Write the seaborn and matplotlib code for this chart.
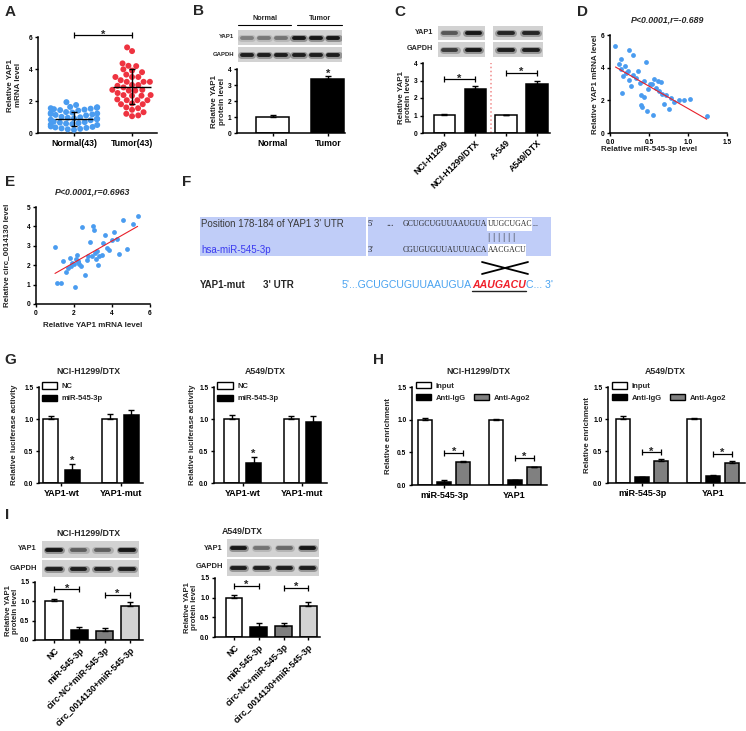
import numpy as np
import pandas as pd
import matplotlib
matplotlib.use('Agg')
import matplotlib.pyplot as plt
from matplotlib.patches import Patch, Rectangle
import seaborn as sns

# ============================================
# DATA
# ============================================

# A - YAP1 mRNA in tissue
a_groups = ['Normal(43)', 'Tumor(43)']
normal_vals = [0.20, 0.23, 0.26, 0.29, 0.32, 0.35, 0.38, 0.41,
               0.50, 0.53, 0.56, 0.59, 0.62, 0.65, 0.68, 0.71,
               0.80, 0.83, 0.86, 0.89, 0.92, 0.95, 0.98, 1.01,
               1.10, 1.13, 1.16, 1.19, 1.22, 1.25, 1.28, 1.31,
               1.40, 1.43, 1.46, 1.49, 1.52, 1.55, 1.58, 1.61,
               1.63, 1.75, 1.93]
tumor_vals = [5.35, 5.12, 4.35, 4.18, 4.20, 3.90, 3.98, 3.80, 3.50, 3.50,
              3.50, 3.20, 3.20, 3.30, 3.20, 3.00, 2.95, 3.00, 2.85, 2.70,
              2.65, 2.65, 2.70, 2.37, 2.33, 2.33, 2.37, 2.05, 2.05, 2.10,
              2.05, 1.85, 1.80, 1.80, 1.60, 1.55, 1.45, 1.30, 1.20, 1.05,
              1.10, 2.50, 3.65]
a_mean = [0.88, 2.90]
a_sd = [0.45, 1.07]

# B - YAP1 protein in tissue
b_groups = ['Normal', 'Tumor']
b_vals = [1.02, 3.35]
b_err = [0.08, 0.20]
b_yap1_bands = [0.35, 0.38, 0.40, 0.95, 0.95, 0.95]
b_gapdh_bands = [0.90, 0.90, 0.90, 0.90, 0.90, 0.90]

# C - YAP1 protein in cell lines
c_groups = ['NCI-H1299', 'NCI-H1299/DTX', 'A-549', 'A549/DTX']
c_vals = [1.02, 2.52, 1.02, 2.82]
c_err = [0.07, 0.17, 0.03, 0.18]
c_sig = [3.06, 3.43]
c_yap1_left = [0.55, 0.95]
c_yap1_right = [0.85, 0.85]
c_gapdh_left = [0.70, 0.95]
c_gapdh_right = [0.90, 0.90]

# D - miR-545-3p vs YAP1 mRNA
d_x = [0.07, 0.24, 0.30, 0.46, 0.14, 0.11, 0.19, 0.14, 0.23, 0.21, 0.29,
       0.17, 0.36, 0.33, 0.24, 0.43, 0.39, 0.57, 0.61, 0.66, 0.51, 0.54,
       0.27, 0.59, 0.49, 0.63, 0.67, 0.72, 0.15, 0.40, 0.44, 0.78, 0.89,
       0.95, 1.03, 0.82, 0.40, 0.41, 0.69, 0.75, 0.47, 0.55, 1.24]
d_y = [5.35, 5.08, 4.77, 4.36, 4.53, 4.20, 4.10, 3.91, 3.81, 3.69, 3.55,
       3.48, 3.79, 3.34, 3.22, 3.18, 3.07, 3.28, 3.20, 3.14, 3.03, 2.99,
       2.87, 2.75, 2.70, 2.58, 2.38, 2.30, 2.44, 2.32, 2.21, 2.13, 2.05,
       2.01, 2.09, 1.90, 1.70, 1.60, 1.80, 1.48, 1.33, 1.13, 1.05]

# E - YAP1 mRNA vs circ_0014130
e_x = [1.00, 1.09, 1.30, 1.44, 1.58, 1.70, 1.79, 1.88, 2.00, 2.05, 2.10,
       2.14, 2.23, 2.28, 2.35, 2.42, 2.56, 2.67, 2.75, 2.84, 2.93, 3.02,
       3.07, 3.10, 3.16, 3.19, 3.25, 3.33, 3.46, 3.54, 3.65, 3.75, 3.86,
       3.98, 4.10, 4.25, 4.39, 4.56, 4.77, 5.12, 5.35, 1.84, 2.20]
e_y = [2.93, 1.07, 1.10, 2.20, 1.67, 1.88, 2.36, 2.10, 2.05, 0.86, 2.33,
       2.53, 2.16, 2.07, 1.98, 3.95, 1.50, 2.28, 2.45, 3.22, 2.48, 4.00,
       3.83, 2.62, 2.31, 2.71, 2.02, 2.45, 2.53, 3.14, 3.55, 2.88, 2.79,
       3.28, 3.71, 3.36, 2.57, 4.34, 2.83, 4.14, 4.55, 1.97, 2.20]

# G - luciferase reporter
g_targets = ['YAP1-wt', 'YAP1-mut']
g_groups = ['NC', 'miR-545-3p']
g1_nc = [1.00, 1.00]
g1_nc_err = [0.04, 0.08]
g1_mir = [0.20, 1.07]
g1_mir_err = [0.10, 0.07]
g2_nc = [1.00, 1.00]
g2_nc_err = [0.06, 0.05]
g2_mir = [0.31, 0.95]
g2_mir_err = [0.10, 0.09]

# H - RIP assay
h_targets = ['miR-545-3p', 'YAP1']
h_groups = ['Input', 'Anti-IgG', 'Anti-Ago2']
h1_input = [1.00, 1.00]
h1_input_err = [0.03, 0.01]
h1_igg = [0.05, 0.07]
h1_igg_err = [0.02, 0.01]
h1_ago2 = [0.35, 0.27]
h1_ago2_err = [0.02, 0.01]
h1_sig = [0.49, 0.41]
h2_input = [1.00, 1.00]
h2_input_err = [0.05, 0.02]
h2_igg = [0.09, 0.11]
h2_igg_err = [0.01, 0.01]
h2_ago2 = [0.35, 0.32]
h2_ago2_err = [0.02, 0.02]
h2_sig = [0.48, 0.45]

# I - rescue western blot
i_groups = ['NC', 'miR-545-3p', 'circ-NC+miR-545-3p', 'circ_0014130+miR-545-3p']
i1_vals = [1.00, 0.25, 0.23, 0.88]
i1_err = [0.05, 0.09, 0.09, 0.10]
i1_sig = [1.31, 1.16]
i2_vals = [1.00, 0.26, 0.27, 0.80]
i2_err = [0.06, 0.09, 0.08, 0.09]
i2_sig = [1.30, 1.25]
i1_yap1 = [0.95, 0.50, 0.50, 0.95]
i1_gapdh = [0.90, 0.90, 0.90, 0.90]
i2_yap1 = [0.95, 0.40, 0.45, 0.95]
i2_gapdh = [0.90, 0.90, 0.90, 0.90]

BLUE = '#4a9cf0'
RED = '#ee3340'

# ============================================
# STYLE
# ============================================
sns.set_style('ticks')
plt.rcParams['font.family'] = ['Liberation Sans', 'DejaVu Sans']
plt.rcParams['font.weight'] = 'bold'
plt.rcParams['axes.labelweight'] = 'bold'
plt.rcParams['axes.linewidth'] = 1.1
plt.rcParams['axes.edgecolor'] = 'black'
for k in ['xtick', 'ytick']:
    plt.rcParams[k + '.color'] = 'black'
    plt.rcParams[k + '.major.width'] = 1.0
    plt.rcParams[k + '.major.size'] = 2.5
    plt.rcParams[k + '.major.pad'] = 1.5
    plt.rcParams[k + '.labelsize'] = 4.8

W, H = 746, 731
fig = plt.figure(figsize=(W / 100, H / 100), dpi=100)


def px_axes(left, top, right, bottom):
    return fig.add_axes([left / W, 1 - bottom / H, (right - left) / W, (bottom - top) / H])


def ylab(ax, text, right_px, size=5.8):
    pos = ax.get_position()
    ax.set_ylabel(text, fontsize=size, linespacing=1.1)
    ax.yaxis.set_label_coords((right_px / W - pos.x0) / pos.width, 0.5)


def finish(ax, ylim, yticks, fmt='{:g}', xsize=6.3):
    sns.despine(ax=ax)
    ax.set_ylim(*ylim)
    ax.set_yticks(yticks)
    ax.set_yticklabels([fmt.format(v) for v in yticks])
    ax.set_xlabel('')
    ax.tick_params(axis='x', labelsize=xsize)


def add_err(ax, xs, vals, errs):
    ax.errorbar(xs, vals, yerr=[np.zeros(len(vals)), errs], fmt='none',
                ecolor='black', elinewidth=1, capsize=2.2, capthick=1, zorder=3)


def bracket(ax, x0, x1, y):
    ax.plot([x0, x1], [y, y], color='black', lw=0.9, marker='|',
            markersize=4, markeredgewidth=0.9, clip_on=False)
    star(ax, (x0 + x1) / 2, y)


def star(ax, x, y):
    ax.annotate('*', (x, y), xytext=(0, -1.5), textcoords='offset points',
                ha='center', va='baseline', fontsize=8, annotation_clip=False)


def blot(ax, bands):
    lanes = np.arange(len(bands))
    ax.set_facecolor('#d2d2d2')
    for lane, level in zip(lanes, bands):
        ax.plot([lane - 0.3, lane + 0.3], [0, 0], color='#111111',
                alpha=0.35 * level, lw=5, solid_capstyle='round')
        ax.plot([lane - 0.28, lane + 0.28], [0, 0], color='#111111',
                alpha=level, lw=2.8, solid_capstyle='round')
    ax.set_xlim(-0.5, len(bands) - 0.5)
    ax.set_ylim(-1, 1)
    ax.set_xticks([])
    ax.set_yticks([])
    for s in ax.spines.values():
        s.set_visible(False)


def simple_bars(ax, groups, vals, errs, colors, width):
    sns.barplot(x=groups, y=vals, hue=groups, palette=colors, width=width,
                saturation=1, edgecolor='black', linewidth=1.1,
                errorbar=None, legend=False, ax=ax)
    add_err(ax, np.arange(len(groups)), vals, errs)


def grouped_bars(ax, targets, groups, series, errs, colors, width, gap):
    rows = []
    for g, vals in zip(groups, series):
        for t, v in zip(targets, vals):
            rows.append({'target': t, 'group': g, 'value': v})
    df = pd.DataFrame(rows)
    sns.barplot(data=df, x='target', y='value', hue='group', order=targets,
                hue_order=groups, palette=colors, width=width, gap=gap,
                saturation=1, edgecolor='black', linewidth=1.1,
                errorbar=None, legend=False, ax=ax)
    n = len(groups)
    centers = []
    for j, (vals, err) in enumerate(zip(series, errs)):
        xs = np.arange(len(targets)) - width / 2 + width / n * (j + 0.5)
        add_err(ax, xs, vals, err)
        centers.append(xs)
    return centers


def box(fc):
    return Patch(facecolor=fc, edgecolor='black', linewidth=1)


# ============================================
# PANEL A
# ============================================
axA = px_axes(38, 37, 157, 133)
df_a = pd.DataFrame({'group': [a_groups[0]] * len(normal_vals) + [a_groups[1]] * len(tumor_vals),
                     'value': normal_vals + tumor_vals})
sns.swarmplot(data=df_a, x='group', y='value', hue='group', palette=[BLUE, RED],
              size=4.3, linewidth=0, legend=False, ax=axA)
xa = np.arange(2)
axA.hlines(a_mean, xa - 0.33, xa + 0.33, color='black', lw=1, zorder=4)
axA.errorbar(xa, a_mean, yerr=a_sd, fmt='none', ecolor='black', elinewidth=1,
             capsize=2.2, capthick=1, zorder=4)
bracket(axA, 0, 1, 6.1)
finish(axA, (0, 6), [0, 2, 4, 6])
axA.set_xlim(-0.62, 1.43)
ylab(axA, 'Relative YAP1\nmRNA level', 22)

# ============================================
# PANEL B
# ============================================
axB = px_axes(237, 69, 345, 133)
simple_bars(axB, b_groups, b_vals, b_err, ['white', 'black'], 0.6)
star(axB, 1, b_vals[1] + b_err[1] + 0.1)
finish(axB, (0, 4), [0, 1, 2, 3, 4])
axB.set_xlim(-0.65, 1.31)
ylab(axB, 'Relative YAP1\nprotein level', 226)
blot(px_axes(238, 30, 342, 45), b_yap1_bands)
blot(px_axes(238, 47, 342, 62), b_gapdh_bands)

# ============================================
# PANEL C
# ============================================
axC = px_axes(423, 63, 550, 133)
simple_bars(axC, c_groups, c_vals, c_err, ['white', 'black', 'white', 'black'], 0.68)
axC.axvline(1.5, color='#f08a8a', ls=':', lw=1.1)
bracket(axC, 0, 1, c_sig[0])
bracket(axC, 2, 3, c_sig[1])
finish(axC, (0, 4), [0, 1, 2, 3, 4])
axC.set_xlim(-0.68, 3.42)
axC.set_xticks(range(4))
axC.set_xticklabels(c_groups, rotation=45, ha='right', rotation_mode='anchor', fontsize=6.3)
ylab(axC, 'Relative YAP1\nprotein level', 412)
blot(px_axes(438, 26, 485, 40), c_yap1_left)
blot(px_axes(493, 26, 543, 40), c_yap1_right)
blot(px_axes(438, 42, 485, 57), c_gapdh_left)
blot(px_axes(493, 42, 543, 57), c_gapdh_right)

# ============================================
# PANEL D
# ============================================
axD = px_axes(610, 35, 727, 133)
sns.regplot(x=d_x, y=d_y, ci=None, ax=axD,
            scatter_kws=dict(s=12, color=BLUE, linewidths=0, alpha=1),
            line_kws=dict(color='#e8202a', lw=0.8))
finish(axD, (0, 6), [0, 2, 4, 6])
axD.set_xlim(0, 1.5)
axD.set_xticks([0, 0.5, 1.0, 1.5])
axD.set_xticklabels(['0.0', '0.5', '1.0', '1.5'], fontsize=4.8)
axD.set_xlabel('Relative miR-545-3p level', fontsize=5.8)
axD.xaxis.set_label_coords(0.33, -0.13)
ylab(axD, 'Relative YAP1 mRNA level', 599)

# ============================================
# PANEL E
# ============================================
axE = px_axes(36, 207, 150, 304)
sns.regplot(x=e_x, y=e_y, ci=None, ax=axE,
            scatter_kws=dict(s=12, color=BLUE, linewidths=0, alpha=1),
            line_kws=dict(color='#e8202a', lw=0.8))
finish(axE, (0, 5), [0, 1, 2, 3, 4, 5])
axE.set_xlim(0, 6)
axE.set_xticks([0, 2, 4, 6])
axE.tick_params(axis='x', labelsize=4.8)
axE.set_xlabel('Relative YAP1 mRNA level', fontsize=5.8)
ylab(axE, 'Relative circ_0014130 level', 10)

# ============================================
# PANEL G
# ============================================
g_sets = [
    (px_axes(39, 387, 143, 483), g1_nc, g1_nc_err, g1_mir, g1_mir_err, (-0.38, 1.38), 18),
    (px_axes(214, 387, 327, 483), g2_nc, g2_nc_err, g2_mir, g2_mir_err, (-0.48, 1.42), 196),
]
for ax, nc, nc_err, mir, mir_err, xlim, lab_x in g_sets:
    cx = grouped_bars(ax, g_targets, g_groups, [nc, mir], [nc_err, mir_err],
                      ['white', 'black'], 0.74, 0.32)
    star(ax, cx[1][0], mir[0] + mir_err[0] + 0.03)
    finish(ax, (0, 1.5), [0, 0.5, 1.0, 1.5], '{:.1f}', xsize=6.5)
    ax.set_xlim(*xlim)
    ylab(ax, 'Relative luciferase activity', lab_x)
    ax.legend([box('white'), box('black')], g_groups, loc='upper left',
              bbox_to_anchor=(0.03, 1.05), frameon=False, fontsize=5.5,
              handlelength=2.0, handleheight=0.9, labelspacing=0.6,
              handletextpad=0.6, borderaxespad=0, borderpad=0)

# ============================================
# PANEL H
# ============================================
h_sets = [
    (px_axes(412, 387, 547, 485), [h1_input, h1_igg, h1_ago2],
     [h1_input_err, h1_igg_err, h1_ago2_err], h1_sig, (-0.46, 1.46), 392),
    (px_axes(608, 387, 745, 483), [h2_input, h2_igg, h2_ago2],
     [h2_input_err, h2_igg_err, h2_ago2_err], h2_sig, (-0.48, 1.45), 591),
]
for ax, series, errs, sig, xlim, lab_x in h_sets:
    cx = grouped_bars(ax, h_targets, h_groups, series, errs,
                      ['white', 'black', '#808080'], 0.81, 0.26)
    for k in range(2):
        bracket(ax, cx[1][k], cx[2][k], sig[k])
    finish(ax, (0, 1.5), [0, 0.5, 1.0, 1.5], '{:.1f}', xsize=6.5)
    ax.set_xlim(*xlim)
    ylab(ax, 'Relative enrichment', lab_x)
    ax.legend([box('white'), box('black'), Patch(facecolor='none', edgecolor='none'), box('#808080')],
              ['Input', 'Anti-IgG', '', 'Anti-Ago2'], ncol=2, loc='upper left',
              bbox_to_anchor=(0.03, 1.05), frameon=False, fontsize=5.5,
              handlelength=2.0, handleheight=0.9, labelspacing=0.5,
              handletextpad=0.6, columnspacing=1.0, borderaxespad=0, borderpad=0)

# ============================================
# PANEL I
# ============================================
i_sets = [
    (px_axes(35, 582, 143, 640), i1_vals, i1_err, i1_sig, (-0.75, 3.51), 19,
     (42, 541, 139, 558), (42, 560, 139, 577), i1_yap1, i1_gapdh),
    (px_axes(215, 578, 320, 637), i2_vals, i2_err, i2_sig, (-0.77, 3.47), 198,
     (227, 539, 319, 557), (227, 559, 319, 576), i2_yap1, i2_gapdh),
]
for ax, vals, errs, sig, xlim, lab_x, yb, gb, yband, gband in i_sets:
    simple_bars(ax, i_groups, vals, errs, ['white', 'black', '#7f7f7f', '#d3d3d3'], 0.68)
    bracket(ax, 0, 1, sig[0])
    bracket(ax, 2, 3, sig[1])
    finish(ax, (0, 1.5), [0, 0.5, 1.0, 1.5], '{:.1f}')
    ax.set_xlim(*xlim)
    ax.set_xticks(range(4))
    ax.set_xticklabels(i_groups, rotation=45, ha='right', rotation_mode='anchor', fontsize=6.3)
    ylab(ax, 'Relative YAP1\nprotein level', lab_x, size=5.6)
    blot(px_axes(*yb), yband)
    blot(px_axes(*gb), gband)

# ============================================
# OVERLAY TEXT (letters, titles, blot labels, panel F)
# ============================================
ov = fig.add_axes([0, 0, 1, 1])
ov.set_xlim(0, W)
ov.set_ylim(H, 0)
ov.axis('off')

for letter, x, y in [('A', 10, 12), ('B', 198, 11), ('C', 400, 12), ('D', 583, 12),
                     ('E', 10, 182), ('F', 187, 182), ('G', 10, 360),
                     ('H', 378, 360), ('I', 7, 515)]:
    ov.text(x, y, letter, fontsize=11, ha='center', va='center')

for title, x, y, style in [('P<0.0001,r=-0.689', 668, 20, 'italic'),
                           ('P<0.0001,r=0.6963', 93, 192, 'italic'),
                           ('NCI-H1299/DTX', 88, 372, 'normal'),
                           ('A549/DTX', 265, 372, 'normal'),
                           ('NCI-H1299/DTX', 478, 372, 'normal'),
                           ('A549/DTX', 665, 372, 'normal'),
                           ('NCI-H1299/DTX', 88, 533, 'normal'),
                           ('A549/DTX', 242, 531, 'normal')]:
    ov.text(x, y, title, fontsize=6.3, fontstyle=style, ha='center', va='center')

# blot labels
for text, x, y, size in [('YAP1', 234, 37, 4.3), ('GAPDH', 234, 54, 4.3),
                         ('YAP1', 433, 33, 5.2), ('GAPDH', 433, 49, 5.2),
                         ('YAP1', 37, 549, 5.3), ('GAPDH', 37, 568, 5.5),
                         ('YAP1', 223, 548, 5.3), ('GAPDH', 223, 567, 5.5)]:
    ov.text(x, y, text, fontsize=size, ha='right', va='center')

# panel B header
ov.text(265, 19, 'Normal', fontsize=5.2, ha='center', va='center')
ov.text(320, 19, 'Tumor', fontsize=5.2, ha='center', va='center')
ov.plot([238, 291], [25, 25], color='black', lw=0.8)
ov.plot([297, 342], [25, 25], color='black', lw=0.8)

# panel F - binding site sketch
renderer = fig.canvas.get_renderer()
serif = ['Liberation Serif', 'DejaVu Serif']
ov.add_patch(Rectangle((200, 217), 166, 39, facecolor='#c0cdf8', edgecolor='none'))
ov.add_patch(Rectangle((368, 217), 183, 39, facecolor='#c0cdf8', edgecolor='none'))
ov.text(201, 224, "Position 178-184 of YAP1 3' UTR", fontsize=7, fontweight='normal',
        color='#3a3a3a', va='center')
ov.text(201, 250, 'hsa-miR-545-3p', fontsize=7, fontweight='normal', color='#3a3af0', va='center')
ov.text(368, 224, "5'", fontsize=6, family=serif, fontweight='normal', va='center')
ov.text(368, 250, "3'", fontsize=6, family=serif, fontweight='normal', va='center')
ov.text(386, 224, '...', fontsize=7, family=serif, fontweight='normal', va='center')


def seq_row(x, y, parts):
    # parts: (text, highlighted) pieces written one after another
    for s, lit in parts:
        t = ov.text(x, y, s, fontsize=5.6, family=serif, fontweight='normal',
                    va='center', ha='left', zorder=3)
        ext = t.get_window_extent(renderer)
        if lit:
            ov.add_patch(Rectangle((ext.x0, y - 6.5), ext.x1 - ext.x0, 13,
                                   facecolor='white', edgecolor='none', zorder=2))
        x = ext.x1
    return x


seq_row(403, 224, [('GCUGCUGUUAAUGUA', False), ('UUGCUGAC', True), ('...', False)])
seq_row(403, 250, [('CGUGUGUUAUUUACA', False), ('AACGACU', True)])
ov.text(502, 237, '| | | | | |', fontsize=8, family=serif, fontweight='normal', ha='center', va='center')
ov.plot([482, 528], [262, 274], color='black', lw=1.3)
ov.plot([482, 528], [274, 262], color='black', lw=1.3)
ov.text(200, 285, 'YAP1-mut', fontsize=7, va='center')
ov.text(263, 285, "3' UTR", fontsize=7, va='center')

x = 342
for s, kw in [("5'...GCUGCUGUUAAUGUA", dict(color='#4aa3f0', fontweight='normal')),
              ('AAUGACU', dict(color='#f0202a', fontweight='bold', fontstyle='italic')),
              ("C... 3'", dict(color='#4aa3f0', fontweight='normal'))]:
    t = ov.text(x, 285, s, fontsize=7.6, va='center', ha='left', **kw)
    ext = t.get_window_extent(renderer)
    if s == 'AAUGACU':
        ov.plot([ext.x0, ext.x1], [291, 291], color='#222222', lw=1)
    x = ext.x1

fig.savefig('out.png', dpi=100)
